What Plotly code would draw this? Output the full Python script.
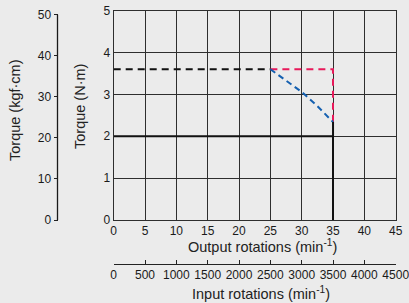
import plotly.graph_objects as go

# ---- data ----
output_ticks = [0, 5, 10, 15, 20, 25, 30, 35, 40, 45]
input_ticks = [0, 500, 1000, 1500, 2000, 2500, 3000, 3500, 4000, 4500]
nm_ticks = [0, 1, 2, 3, 4, 5]
kgf_ticks = [0, 10, 20, 30, 40, 50]

rated_x = [0, 35, 35]
rated_y = [2, 2, 0]
rated_tail_x = [35, 35]
rated_tail_y = [2, 2.34]

peak_x = [0, 25]
peak_y = [3.6, 3.6]

red_x = [25, 35, 35]
red_y = [3.6, 3.6, 2.34]

blue_x = [25, 27.5, 30, 32.5, 35]
blue_y = [3.6, 3.32, 3.06, 2.72, 2.34]

KGF_PER_NM = 1 / 0.0980665

BG = "#ebebeb"
GRID = "#2e2e2e"
TICKFONT = dict(family="Liberation Sans, Arial, Helvetica, sans-serif", size=12, color="#1a1a1a")
TITLEFONT = dict(family="Liberation Sans, Arial, Helvetica, sans-serif", size=14.5, color="#222")

fig = go.Figure()

fig.add_trace(go.Scatter(x=peak_x, y=peak_y, mode="lines",
                         line=dict(color="#111", width=2, dash="7px,5px")))
fig.add_trace(go.Scatter(x=red_x, y=red_y, mode="lines",
                         line=dict(color="#e8195a", width=2, dash="7px,5px")))
fig.add_trace(go.Scatter(x=blue_x, y=blue_y, mode="lines",
                         line=dict(color="#1560b0", width=2, dash="6px,4px")))
fig.add_trace(go.Scatter(x=rated_x, y=rated_y, mode="lines",
                         line=dict(color="#111", width=2)))
fig.add_trace(go.Scatter(x=rated_tail_x, y=rated_tail_y, mode="lines",
                         line=dict(color="#111", width=2)))
# invisible traces to activate the secondary axes
fig.add_trace(go.Scatter(x=[None], y=[None], xaxis="x2", yaxis="y", showlegend=False))
fig.add_trace(go.Scatter(x=[None], y=[None], xaxis="x", yaxis="y2", showlegend=False))

XD = [113.7 / 409, 395.7 / 409]
YD = [1 - 220 / 303, 1 - 10.7 / 303]

fig.update_layout(
    width=409, height=303, autosize=False,
    margin=dict(l=0, r=0, t=0, b=0),
    paper_bgcolor=BG, plot_bgcolor=BG,
    showlegend=False,
    xaxis=dict(domain=XD, range=[0, 45], tickvals=output_ticks, showgrid=True,
               gridcolor=GRID, gridwidth=1, showline=True, mirror=True, linecolor=GRID,
               linewidth=1, ticks="", tickfont=TICKFONT, zeroline=False, anchor="y",
               fixedrange=True, automargin=False, tickangle=0, ticklabeloverflow="allow"),
    yaxis=dict(domain=YD, range=[0, 5], tickvals=nm_ticks, showgrid=True,
               gridcolor=GRID, gridwidth=1, showline=True, mirror=True, linecolor=GRID,
               linewidth=1, ticks="", tickfont=TICKFONT, zeroline=False, anchor="x",
               fixedrange=True, automargin=False),
    xaxis2=dict(overlaying="x", anchor="free", position=1 - 264 / 303, side="bottom",
                range=[0, 4500], tickvals=input_ticks, showgrid=False, showline=True,
                linecolor="#222", linewidth=1, ticks="inside", ticklen=4, tickcolor="#222",
                tickfont=TICKFONT, zeroline=False, fixedrange=True, automargin=False,
                tickangle=0, ticklabeloverflow="allow"),
    yaxis2=dict(overlaying="y", anchor="free", position=57.5 / 409, side="left",
                range=[0, 5 * KGF_PER_NM], tickvals=kgf_ticks, showgrid=False,
                showline=False, ticks="outside", ticklen=4, tickcolor="#222",
                tickfont=TICKFONT, zeroline=False, fixedrange=True, automargin=False),
)

fig.add_shape(type="line", xref="paper", yref="y2", x0=57.5 / 409, x1=57.5 / 409,
              y0=0, y1=50, line=dict(color="#1a1a1a", width=1.3))

annots = [
    dict(text="Torque (kgf·cm)", x=15 / 409, y=1 - 110 / 303, textangle=-90),
    dict(text="Torque (N·m)", x=80 / 409, y=1 - 107 / 303, textangle=-90),
    dict(text="Output rotations (min<sup>-1</sup>)", x=262 / 409, y=1 - 246 / 303, textangle=0),
    dict(text="Input rotations (min<sup>-1</sup>)", x=261 / 409, y=1 - 293 / 303, textangle=0),
]
for a in annots:
    fig.add_annotation(xref="paper", yref="paper", showarrow=False,
                       xanchor="center", yanchor="middle", font=TITLEFONT, **a)

fig.write_html("out.html",
               config={"displayModeBar": False, "staticPlot": True},
               post_script="document.body.style.margin='0';"
                           "document.body.style.background='#ebebeb';")
